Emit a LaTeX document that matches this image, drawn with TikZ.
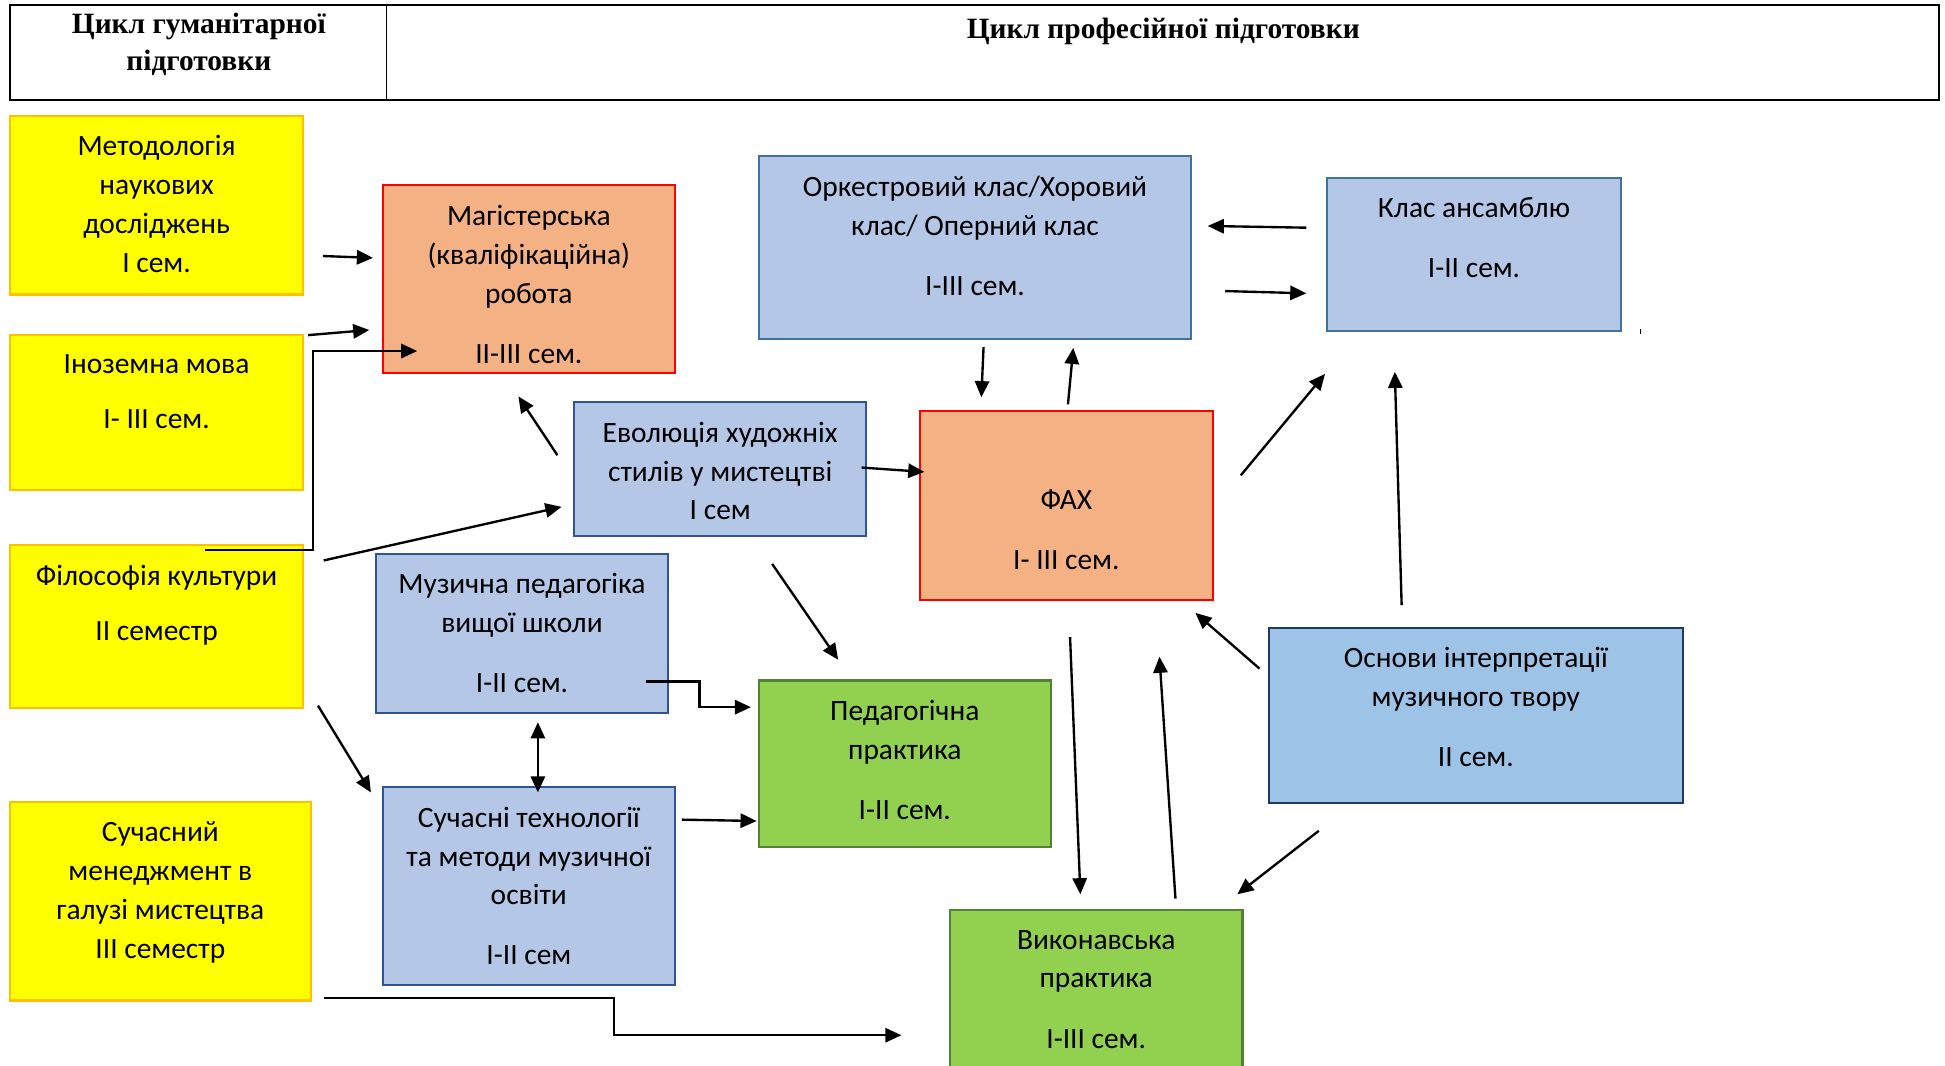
\documentclass[tikz,border=0pt]{standalone}
\usepackage{fontspec}
\setmainfont{Carlito}
\newfontfamily\headfont{Liberation Serif}
\usetikzlibrary{positioning,calc,arrows.meta}
\definecolor{boxyellow}{HTML}{FFFF00}
\definecolor{edgeyellow}{HTML}{FFC000}
\definecolor{boxsalmon}{HTML}{F4B183}
\definecolor{boxblue}{HTML}{B4C7E7}
\definecolor{edgeblue}{HTML}{2F5597}
\definecolor{edgesteel}{HTML}{41719C}
\definecolor{boxsky}{HTML}{9DC3E6}
\definecolor{edgenavy}{HTML}{203864}
\definecolor{boxgreen}{HTML}{92D050}
\definecolor{edgegreen}{HTML}{548235}

\begin{document}
\begin{tikzpicture}[
  x=1pt, y=-1pt,
  >={Triangle[length=13pt,width=11.5pt]},
  title/.style={font=\fontsize{23.7}{31.3}\selectfont, align=center, inner sep=0pt, execute at begin node=\strut},
  headtext/.style={font=\headfont\bfseries\fontsize{23.7}{29.5}\selectfont, align=center, anchor=north, inner sep=0pt, execute at begin node=\strut},
  boxframe/.style={rectangle, line width=1.7pt, inner sep=0pt},
  hum/.style={boxframe, draw=edgeyellow, fill=boxyellow},
  core/.style={boxframe, draw=red, fill=boxsalmon},
  prof/.style={boxframe, draw=edgeblue, fill=boxblue},
  ens/.style={boxframe, draw=edgesteel, fill=boxblue},
  interp/.style={boxframe, draw=edgenavy, fill=boxsky},
  prac/.style={boxframe, draw=edgegreen, fill=boxgreen},
  link/.style={->, line width=1.9pt}
]
\useasboundingbox (0,0) rectangle (1565,857.7);
\clip (0,0) rectangle (1565,857.7);

% header
\node (hdr) [draw, line width=2pt, minimum width=1552pt, minimum height=76.5pt, inner sep=0pt] at (784,42.25) {};
\draw[line width=1.5pt] ($(hdr.north west)+(304,0)$) -- ($(hdr.south west)+(304,0)$);
\node (humT) [headtext] at (160,10.4) {Цикл гуманітарної\\підготовки};
\node (profT) [headtext] at (936,10.4) {Цикл професійної підготовки};

% humanities column
\node (met) [hum, minimum width=236pt, minimum height=144pt] at (126,165) {};
\node (metC) [title, below=16.6pt of met.north] {Методологія\\наукових\\досліджень\\I сем.};
\node (ino) [hum, minimum width=236pt, minimum height=125pt] at (126,332) {};
\node (inoC) [title, below=16.6pt of ino.north] {Іноземна мова\\[13pt]I- III сем.};
\node (fil) [hum, minimum width=236pt, minimum height=131pt] at (126,504) {};
\node (filC) [title, below=16.6pt of fil.north] {Філософія культури\\[13pt]II семестр};
\node (men) [hum, minimum width=242pt, minimum height=160pt] at (129,725) {};
\node (menC) [title, below=16.6pt of men.north] {Сучасний\\менеджмент в\\галузі мистецтва\\III семестр};

% professional column
\node (mag) [core, minimum width=235pt, minimum height=151pt] at (425.5,224.5) {};
\node (magC) [title, below=16.6pt of mag.north] {Магістерська\\(кваліфікаційна)\\робота\\[17pt]II-III сем.};
\node (fax) [core, minimum width=236pt, minimum height=152pt] at (858,407) {};
\node (faxC) [title, below=63.6pt of fax.north] {ФАХ\\[17pt]I- III сем.};
\node (ork) [ens, minimum width=347pt, minimum height=147pt] at (784.5,199) {};
\node (orkC) [title, below=16.6pt of ork.north] {Оркестровий клас/Хоровий\\клас/ Оперний клас\\[17pt]I-III сем.};
\node (ans) [ens, minimum width=236pt, minimum height=123pt] at (1186,204.5) {};
\node (ansC) [title, below=16.6pt of ans.north] {Клас ансамблю\\[17pt]I-II сем.};
\node (evo) [prof, minimum width=235pt, minimum height=108pt] at (579.5,377.5) {};
\node (evoC) [title, below=16.6pt of evo.north] {Еволюція художніх\\стилів у мистецтві\\I сем};
\node (muz) [prof, minimum width=235pt, minimum height=128pt] at (420,509.5) {};
\node (muzC) [title, below=16.6pt of muz.north] {Музична педагогіка\\вищої школи\\[17pt]I-II сем.};
\node (tech) [prof, minimum width=235pt, minimum height=159.5pt] at (425.5,713) {};
\node (techC) [title, below=16.6pt of tech.north] {Сучасні технології\\та методи музичної\\освіти\\[17pt]I-II сем};
\node (osn) [interp, minimum width=333pt, minimum height=141pt] at (1187.5,575.5) {};
\node (osnC) [title, below=16.6pt of osn.north] {Основи інтерпретації\\музичного твору\\[17pt]II сем.};
\node (ped) [prac, minimum width=235pt, minimum height=134pt] at (728,614.5) {};
\node (pedC) [title, below=16.6pt of ped.north] {Педагогічна\\практика\\[17pt]I-II сем.};
\node (vyk) [prac, minimum width=235.5pt, minimum height=160pt] at (882,812.5) {};
\node (vykC) [title, below=16.6pt of vyk.north] {Виконавська\\практика\\[17pt]I-III сем.};

% links
\draw[link] ($(met.east)+(15,41)$) -- ($(mag.west)+(-7,-17)$);
\draw[link] ($(ino.north east)+(3,1)$) -- ($(mag.west)+(-10,41)$);
\draw[link] ($(fil.north)+(39,5)$) -- ++(86.7,0) |- ($(mag.south west)+(28.6,-18.4)$);
\draw[link] ($(fil.north east)+(15.6,13.3)$) -- ($(evo.west)+(-9.3,30.3)$);
\draw[link] ($(evo.west)+(-12.6,-11.2)$) -- ($(mag.south)+(-8.4,18.1)$);
\draw[link] ($(evo.east)+(-4.6,-1.3)$) -- ($(fax.west)+(4.6,-27.3)$);
\draw[link] ($(evo.south)+(41.8,21.4)$) -- ($(ped.north)+(-53.6,-15.8)$);
\draw[link] ($(muz.south east)+(-18.8,-25.9)$) -- ++(43.4,0) |- ($(ped.west)+(-5.4,-45.5)$);
\draw[link, <->] ($(muz.south)+(12.8,6.8)$) -- ($(tech.north)+(7.3,5.2)$);
\draw[link] ($(fil.south east)+(11,-2.6)$) -- ($(tech.north west)+(-8.7,5.2)$);
\draw[link] ($(tech.east)+(4.8,-53.5)$) -- ($(ped.west)+(-0.8,46.1)$);
\draw[link] ($(men.south east)+(9.6,-3)$) -- ++(233.7,0) |- ($(vyk.north west)+(-38.1,101.3)$);
\draw[link] ($(ork.south)+(6.9,5.9)$) -- ($(fax.north)+(-68.4,-10.5)$);
\draw[link] ($(fax.north)+(1.3,-4.8)$) -- ($(ork.south)+(79.1,6.5)$);
\draw[link] ($(ans.west)+(-16,-21.3)$) -- ($(ork.east)+(12.9,-17.2)$);
\draw[link] ($(ork.east)+(27,35.2)$) -- ($(ans.west)+(-16,31.5)$);
\draw[link] ($(fax.east)+(21.5,-24.5)$) -- ($(ans.south west)+(-1,34)$);
\draw[link] ($(osn.north)+(-59.7,-17.2)$) -- ($(ans.south)+(-63.7,32.3)$);
\draw[link] ($(osn.west)+(-6.7,-37.5)$) -- ($(fax.south east)+(-15,9.3)$);
\draw[link] ($(fax.south)+(3,28.7)$) -- ($(vyk.north)+(-12.7,-12.1)$);
\draw[link] ($(vyk.north)+(63.8,-8.6)$) -- ($(fax.south)+(74.9,44.5)$);
\draw[link] ($(osn.south west)+(41,21.6)$) -- ($(vyk.north east)+(-5,-12.1)$);
\draw[line width=0.8pt] ($(ans.south east)+(15,-2.3)$) -- ++(0,4.5);

\end{tikzpicture}
\end{document}
